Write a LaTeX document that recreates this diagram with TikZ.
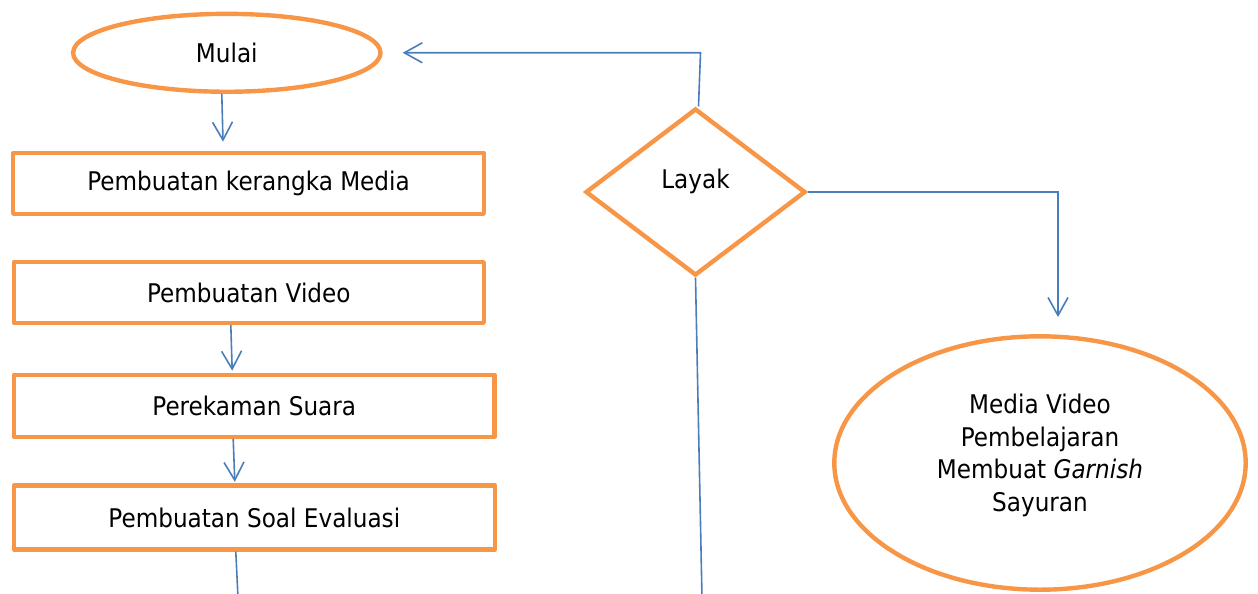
\documentclass[tikz,border=0pt]{standalone}
\usepackage{fontspec}
\setmainfont{DejaVu Sans}[FakeStretch=0.9]
\usetikzlibrary{shapes.geometric,arrows.meta,calc}
\definecolor{orng}{HTML}{F79646}
\definecolor{blu}{HTML}{4A7EBB}
\begin{document}
\begin{tikzpicture}[x=1pt,y=-1pt,
  every node/.style={font=\fontsize{25.7}{32.4}\selectfont, text=black},
  procbox/.style={draw=orng, line width=4.4pt, rectangle, inner sep=0pt, line join=round},
  termnode/.style={draw=orng, line width=4.4pt, ellipse, inner sep=0pt},
  decnode/.style={draw=orng, line width=4.4pt, diamond, inner sep=0pt, line join=miter},
  flow/.style={draw=blu, line width=1.6pt, -{Straight Barb[length=18pt,width=20pt]}},
  plainline/.style={draw=blu, line width=1.6pt}]
\useasboundingbox (0,0) rectangle (1258,594);
\node[termnode, minimum width=307.4pt, minimum height=77.9pt] (M) at (226.8,52.8) {Mulai};
\node[procbox, minimum width=470.6pt, minimum height=60.9pt] (K) at (248.5,183.3) {Pembuatan kerangka Media};
\node[procbox, minimum width=469.9pt, minimum height=60.6pt] (V) at (248.8,292.5) {Pembuatan Video};
\node[procbox, minimum width=480.6pt, minimum height=61.9pt] (S) at (254.2,405.8) {Perekaman Suara};
\node[procbox, minimum width=480.9pt, minimum height=64pt] (E) at (254.3,517.5) {Pembuatan Soal Evaluasi};
\node[decnode, minimum width=220pt, minimum height=167pt, label={[yshift=10.8pt]center:Layak}] (L) at (695.5,192) {};
\node[termnode, minimum width=411.4pt, minimum height=253.4pt, label={[yshift=7.5pt, align=center]center:Media Video\\Pembelajaran\\Membuat \textit{Garnish}\\Sayuran}] (R) at (1040,463) {};
\coordinate (Ebot) at (238,598);
\coordinate (Lbot) at (702,598);
\coordinate (Ltop) at ($(L.north |- M.east)+(5,0)$);
\draw[flow] ([xshift=-5pt]M.south) -- ([xshift=-25.5pt,yshift=9pt]K.north);
\draw[flow] ([xshift=-18pt]V.south) -- ([xshift=-22pt,yshift=2pt]S.north);
\draw[flow] ([xshift=-21pt]S.south) -- ([xshift=-19.5pt,yshift=1.5pt]E.north);
\draw[plainline] ([xshift=-18.5pt]E.south) -- (Ebot);
\draw[flow] ([xshift=3pt]L.north) -- (Ltop) -- ([xshift=20pt]M.east);
\draw[flow] (L.east) -| ([xshift=18pt,yshift=17pt]R.north);
\draw[plainline] (L.south) -- (Lbot);
\end{tikzpicture}
\end{document}
